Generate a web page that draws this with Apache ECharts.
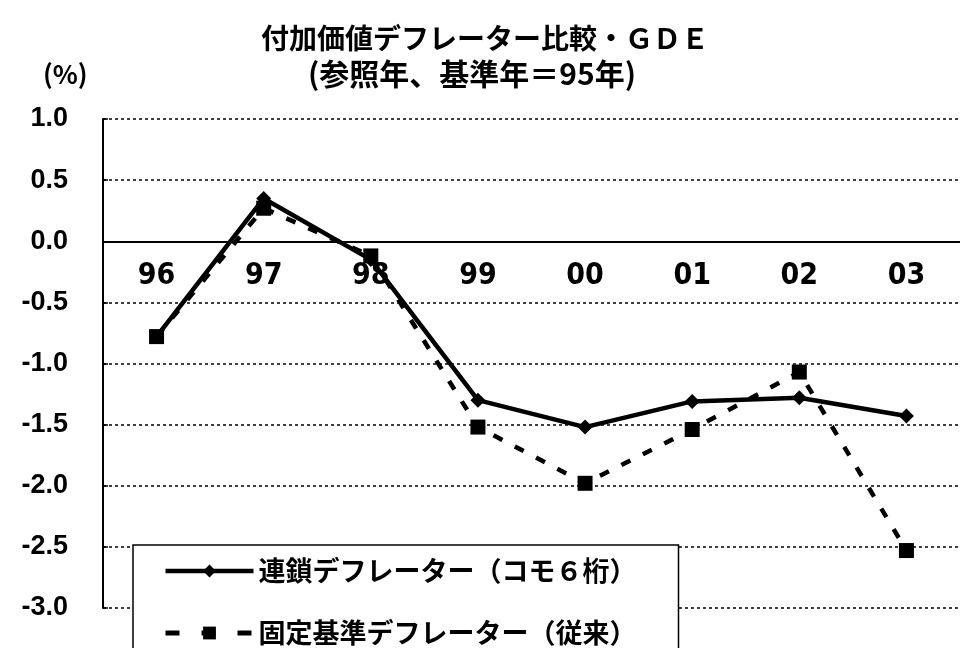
<!DOCTYPE html>
<html>
<head>
<meta charset="utf-8">
<script src="https://cdn.jsdelivr.net/npm/echarts@6/dist/echarts.min.js"></script>
<style>
  html, body { margin: 0; padding: 0; background: #fff; }
  #chart { width: 960px; height: 648px; }
</style>
</head>
<body>
<div id="chart"></div>
<script>
// 年次（96年〜03年）
const years = ['96', '97', '98', '99', '00', '01', '02', '03'];
// 連鎖デフレーター（コモ6桁）
const chainDeflator = [-0.78, 0.35, -0.15, -1.30, -1.52, -1.31, -1.28, -1.43];
// 固定基準デフレーター（従来）
const fixedDeflator = [-0.78, 0.27, -0.12, -1.52, -1.98, -1.54, -1.07, -2.53];

const jp = '"Noto Sans CJK JP", sans-serif';
const yMin = -3, yMax = 1;
const gridTop = 119, gridHeight = 489;

let myChart = echarts.init(document.getElementById('chart'));
myChart.setOption({
  animation: false,
  backgroundColor: '#fff',
  title: [
    {
      text: '付加価値デフレーター比較・ＧＤＥ',
      left: 480, top: 19, textAlign: 'center',
      textStyle: { fontFamily: jp, fontSize: 28, fontWeight: 'bold', color: '#000' }
    },
    {
      text: '(参照年、基準年＝95年)',
      left: 467, top: 54, textAlign: 'center',
      textStyle: { fontFamily: jp, fontSize: 30, fontWeight: 'bold', color: '#000' }
    },
    {
      text: '(%)',
      left: 38, top: 56,
      textStyle: { fontFamily: jp, fontSize: 26, fontWeight: 'bold', color: '#000' }
    }
  ],
  legend: {
    orient: 'vertical',
    left: 133, top: 545, height: 160,
    padding: [10, 42, 30, 30],
    backgroundColor: '#fff',
    borderColor: '#000',
    borderWidth: 1.5,
    itemWidth: 88,
    itemHeight: 16,
    itemGap: 30,
    lineStyle: { width: 4.5 },
    textStyle: { fontFamily: jp, fontSize: 27, fontWeight: 'bold', color: '#000', lineHeight: 32 },
    data: [
      { name: '連鎖デフレーター（コモ６桁）' },
      { name: '固定基準デフレーター（従来）', lineStyle: { width: 5, type: [14, 22] } }
    ]
  },
  grid: { left: 103, top: gridTop, width: 867, height: gridHeight, containLabel: false },
  xAxis: {
    type: 'category',
    data: years,
    position: 'top',
    // 0%の位置に軸を置く
    offset: -gridHeight * yMax / (yMax - yMin),
    axisLine: { onZero: false, lineStyle: { color: '#000', width: 2 } },
    axisTick: { inside: false, length: 8, lineStyle: { color: '#000', width: 1.5 } },
    axisLabel: {
      inside: true,
      margin: 20,
      fontFamily: '"Liberation Sans Narrow", "DejaVu Sans Condensed", sans-serif',
      fontSize: 30, fontWeight: 'bold', color: '#000'
    },
    splitLine: { show: false }
  },
  yAxis: {
    type: 'value',
    min: yMin, max: yMax, interval: 0.5,
    axisLine: { show: true, lineStyle: { color: '#000', width: 2 } },
    axisTick: { show: true, inside: true, length: 5, lineStyle: { color: '#000', width: 1.5 } },
    axisLabel: {
      margin: 35,
      formatter: v => v.toFixed(1),
      fontFamily: '"Liberation Sans", Arial, sans-serif',
      fontSize: 27, fontWeight: 'bold', color: '#000'
    },
    splitLine: { show: true, lineStyle: { color: '#000', width: 1.5, type: [3, 3] } }
  },
  series: [
    {
      name: '固定基準デフレーター（従来）',
      type: 'line',
      data: fixedDeflator,
      symbol: 'rect',
      symbolSize: 15,
      itemStyle: { color: '#000' },
      lineStyle: { color: '#000', width: 4.5, type: [10, 14] }
    },
    {
      name: '連鎖デフレーター（コモ６桁）',
      type: 'line',
      data: chainDeflator,
      symbol: 'diamond',
      symbolSize: 15,
      itemStyle: { color: '#000' },
      lineStyle: { color: '#000', width: 4.5 }
    }
  ]
});
</script>
</body>
</html>
